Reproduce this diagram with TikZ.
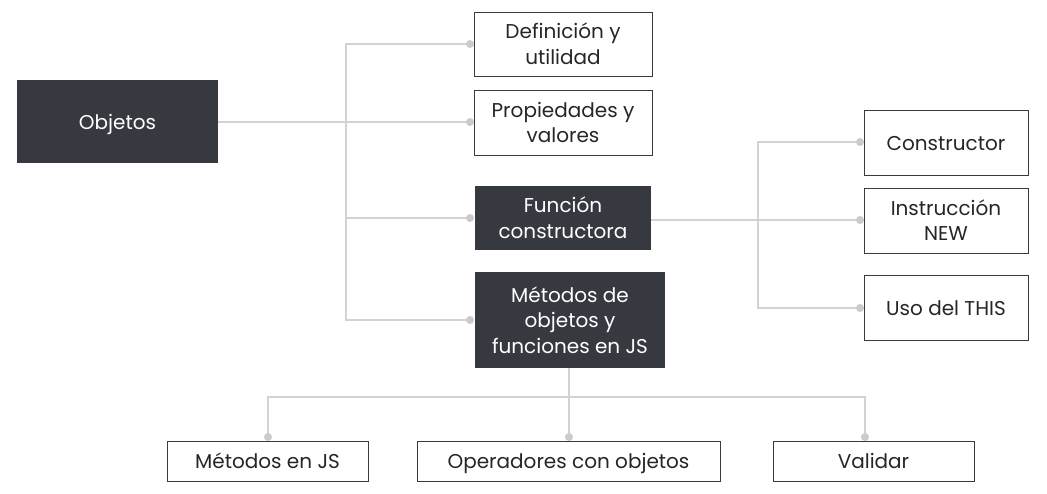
\documentclass[tikz,border=0pt]{standalone}
\usepackage{fontspec}
\setmainfont{Poppins}
\definecolor{darkbox}{HTML}{363940}
\definecolor{edge}{HTML}{D3D3D3}
\definecolor{boxline}{HTML}{3A3A3A}
\newcommand\tx[1]{\raisebox{-2.5pt}[\height][\depth]{\begin{tabular}{@{}c@{}}#1\end{tabular}}}
\begin{document}
\begin{tikzpicture}[x=1pt,y=-1pt,
  every node/.style={font=\fontsize{20}{25.5}\selectfont, align=center, inner sep=0pt},
  lightbox/.style={draw=boxline, line width=1pt, fill=white, text=black!85},
  darkbox/.style={fill=darkbox, text=white},
  conn/.style={draw=edge, line width=1.5pt},
  dot/.style={circle, fill=edge!90!gray, minimum size=8pt, inner sep=0pt}]
\useasboundingbox (0,0) rectangle (1047,493);
\fill[white] (0,0) rectangle (1047,493);
% nodes
\node[darkbox, minimum width=201pt, minimum height=83pt] (obj) at (117.5,121.5) {\tx{Objetos}};
\node[lightbox, minimum width=178pt, minimum height=64pt] (def) at (563,44) {\tx{Definición y\\utilidad}};
\node[lightbox, minimum width=178pt, minimum height=65pt] (prop) at (563,122.5) {\tx{Propiedades y\\valores}};
\node[darkbox, minimum width=176pt, minimum height=64pt] (fun) at (563,218) {\tx{Función\\constructora}};
\node[darkbox, minimum width=190pt, minimum height=96pt] (met) at (570,320) {\tx{Métodos de\\objetos y\\funciones en JS}};
\node[lightbox, minimum width=164pt, minimum height=65pt] (cons) at (946,142.5) {\tx{Constructor}};
\node[lightbox, minimum width=164pt, minimum height=65pt] (inst) at (946,220.5) {\tx{Instrucción\\NEW}};
\node[lightbox, minimum width=164pt, minimum height=65pt] (uso) at (946,307.5) {\tx{Uso del THIS}};
\node[lightbox, minimum width=201pt, minimum height=40pt] (mjs) at (267.5,461) {\tx{Métodos en JS}};
\node[lightbox, minimum width=303pt, minimum height=40pt] (ope) at (568.5,461) {\tx{Operadores con objetos}};
\node[lightbox, minimum width=201pt, minimum height=40pt] (val) at (873.5,461) {\tx{Validar}};
% junction coordinates
\coordinate (d1) at (470,44);
\coordinate (d2) at (470,122);
\coordinate (d3) at (470,218);
\coordinate (d4) at (470,320);
\coordinate (e1) at (860,142);
\coordinate (e2) at (860,220);
\coordinate (e3) at (860,308);
\coordinate (f1) at (268,437);
\coordinate (f2) at (569,437);
\coordinate (f3) at (865,437);
% connectors
\draw[conn] (obj.east |- d2) -- (d2);
\draw[conn] (d1) -| (346,320) -- (d4);
\draw[conn] (346,218) -- (d3);
\draw[conn] (fun.east |- e2) -- (e2);
\draw[conn] (e1) -| (758,308) -- (e3);
\draw[conn] (met.south -| f2) -- (f2);
\draw[conn] (f1) |- (865,397) -- (f3);
\foreach \p in {d1,d2,d3,d4,e1,e2,e3,f1,f2,f3} \node[dot] at (\p) {};
\end{tikzpicture}
\end{document}
